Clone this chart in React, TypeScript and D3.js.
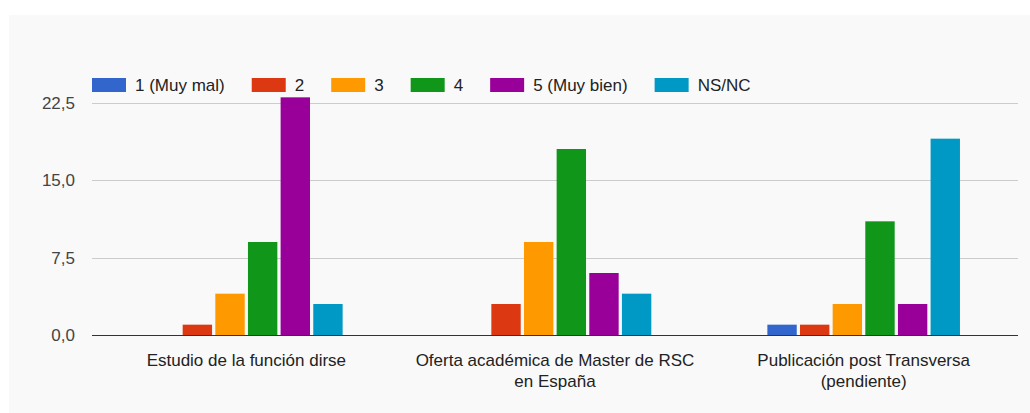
import { useEffect, useRef } from 'react';
import * as d3 from 'd3';

// Data
const categories = [
  'Estudio de la función dirse',
  'Oferta académica de Master de RSC en España',
  'Publicación post Transversa (pendiente)',
];
const seriesNames = ['1 (Muy mal)', '2', '3', '4', '5 (Muy bien)', 'NS/NC'];
const seriesColors = ['#3366cc', '#dc3912', '#ff9900', '#109618', '#990099', '#0099c6'];
// values[series][category]
const values = [
  [0, 0, 1],
  [1, 3, 1],
  [4, 9, 3],
  [9, 18, 11],
  [23, 6, 3],
  [3, 4, 19],
];
const yTicks = [0, 7.5, 15, 22.5];

const App = () => {
  const chartRef = useRef<SVGSVGElement>(null);

  useEffect(() => {
    if (!chartRef.current) return;
    const width = 1030;
    const height = 413;
    const font = 'Liberation Sans, Arial, sans-serif';
    const fontSize = 17;

    const svg = d3.select(chartRef.current);
    svg.selectAll('*').remove();
    svg.attr('width', width).attr('height', height);

    // Panel background
    svg
      .append('rect')
      .attr('x', 9)
      .attr('y', 15)
      .attr('width', width - 9)
      .attr('height', height - 15)
      .attr('fill', '#f9f9f9');

    const left = 92;
    const right = 1018;
    const y = d3.scaleLinear().domain([0, 22.5]).range([335, 102.5]);
    const x0 = d3.scaleBand().domain(categories).range([left, right]).paddingInner(0.376).paddingOuter(0.188);
    const x1 = d3.scaleBand().domain(seriesNames).range([0, x0.bandwidth()]).paddingInner(0.1);

    // Gridlines + y labels
    const grid = svg.append('g');
    grid
      .selectAll('line')
      .data(yTicks)
      .join('line')
      .attr('x1', left)
      .attr('x2', right)
      .attr('y1', (d) => Math.round(y(d)) + 0.5)
      .attr('y2', (d) => Math.round(y(d)) + 0.5)
      .attr('stroke', (d) => (d === 0 ? '#333' : '#ccc'))
      .attr('stroke-width', 1);
    grid
      .selectAll('text')
      .data(yTicks)
      .join('text')
      .attr('x', 75)
      .attr('y', (d) => y(d) + 6)
      .attr('text-anchor', 'end')
      .attr('font-family', font)
      .attr('font-size', fontSize)
      .attr('fill', '#444')
      .text((d) => d3.format('.1f')(d).replace('.', ','));

    // Bars
    const groups = svg
      .append('g')
      .selectAll('g')
      .data(categories)
      .join('g')
      .attr('transform', (d) => `translate(${x0(d)},0)`);
    groups
      .selectAll('rect')
      .data((_, ci) => seriesNames.map((s, si) => ({ s, si, v: values[si][ci] })))
      .join('rect')
      .attr('x', (d) => x1(d.s) as number)
      .attr('width', x1.bandwidth())
      .attr('y', (d) => y(d.v))
      .attr('height', (d) => y(0) - y(d.v))
      .attr('fill', (d) => seriesColors[d.si]);

    // baseline on top of bars
    svg
      .append('line')
      .attr('x1', left)
      .attr('x2', right)
      .attr('y1', Math.round(y(0)) + 0.5)
      .attr('y2', Math.round(y(0)) + 0.5)
      .attr('stroke', '#333');

    // Category labels, wrapped
    const maxW = x0.step() * 0.95;
    categories.forEach((c) => {
      const t = svg
        .append('text')
        .attr('text-anchor', 'middle')
        .attr('font-family', font)
        .attr('font-size', fontSize)
        .attr('fill', '#222');
      const cx = (x0(c) as number) + x0.bandwidth() / 2;
      const words = c.split(' ');
      let line: string[] = [];
      let lineNo = 0;
      let tspan = t.append('tspan').attr('x', cx).attr('y', 366);
      words.forEach((w) => {
        line.push(w);
        tspan.text(line.join(' '));
        if ((tspan.node() as SVGTSpanElement).getComputedTextLength() > maxW && line.length > 1) {
          line.pop();
          tspan.text(line.join(' '));
          line = [w];
          lineNo += 1;
          tspan = t.append('tspan').attr('x', cx).attr('y', 366 + lineNo * 21).text(w);
        }
      });
    });

    // Legend
    const legend = svg.append('g');
    let lx = left;
    seriesNames.forEach((s, i) => {
      legend
        .append('rect')
        .attr('x', lx)
        .attr('y', 78)
        .attr('width', 34)
        .attr('height', 14)
        .attr('fill', seriesColors[i]);
      const t = legend
        .append('text')
        .attr('x', lx + 43)
        .attr('y', 91)
        .attr('font-family', font)
        .attr('font-size', fontSize)
        .attr('fill', '#222')
        .text(s);
      lx += 43 + (t.node() as SVGTextElement).getComputedTextLength() + 27;
    });
  }, []);

  return (
    <div style={{ position: 'absolute', left: 0, top: 0, background: '#fff' }}>
      <svg ref={chartRef} style={{ display: 'block' }} />
    </div>
  );
};

export default App;
